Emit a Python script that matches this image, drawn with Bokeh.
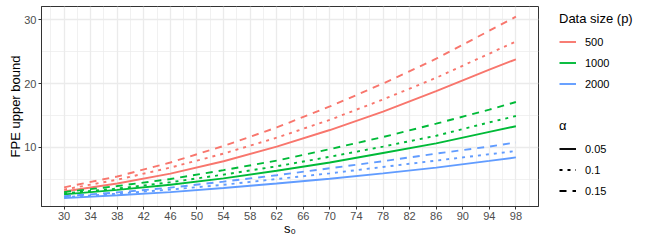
from bokeh.plotting import figure
from bokeh.layouts import row
from bokeh.models import FixedTicker, Legend, LegendItem, Range1d
from bokeh.embed import file_html
from bokeh.resources import INLINE

# ---- data ----
s0 = [30, 38, 46, 54, 62, 70, 78, 86, 94, 98]

data_sizes = ["500", "1000", "2000"]
alphas = ["0.05", "0.1", "0.15"]

p500_a005 = [3.05, 4.3, 5.85, 7.8, 10.1, 12.7, 15.6, 18.8, 22.2, 23.8]
p500_a010 = [3.35, 4.9, 6.8, 9.0, 11.5, 14.3, 17.5, 20.9, 24.7, 26.6]
p500_a015 = [3.7, 5.4, 7.6, 10.2, 13.1, 16.4, 20.0, 23.9, 28.3, 30.5]

p1000_a005 = [2.6, 3.3, 4.1, 5.1, 6.3, 7.6, 9.1, 10.6, 12.4, 13.3]
p1000_a010 = [2.75, 3.5, 4.5, 5.7, 7.0, 8.5, 10.1, 11.8, 13.9, 14.9]
p1000_a015 = [2.95, 3.9, 5.0, 6.4, 7.9, 9.7, 11.6, 13.7, 15.9, 17.1]

p2000_a005 = [2.0, 2.45, 2.95, 3.6, 4.3, 5.05, 5.9, 6.8, 7.85, 8.4]
p2000_a010 = [2.15, 2.7, 3.35, 4.1, 5.0, 5.9, 6.9, 7.9, 8.9, 9.4]
p2000_a015 = [2.3, 2.9, 3.65, 4.6, 5.6, 6.7, 7.8, 9.0, 10.1, 10.75]

x_ticks = list(range(30, 99, 4))
y_ticks = [10, 20, 30]

series = {
    ("500", "0.05"): p500_a005, ("500", "0.1"): p500_a010, ("500", "0.15"): p500_a015,
    ("1000", "0.05"): p1000_a005, ("1000", "0.1"): p1000_a010, ("1000", "0.15"): p1000_a015,
    ("2000", "0.05"): p2000_a005, ("2000", "0.1"): p2000_a010, ("2000", "0.15"): p2000_a015,
}

colors = {"500": "#F8766D", "1000": "#00BA38", "2000": "#619CFF"}
dashes = {"0.05": "solid", "0.1": "3 5", "0.15": "7 6"}
FONT = "Liberation Sans"
LW = 1.9

p = figure(width=540, height=246, output_backend="svg", toolbar_location=None,
           x_range=Range1d(26.6, 101.4), y_range=Range1d(0.69, 32.1),
           min_border_left=41, min_border_right=2, min_border_top=6,
           min_border_bottom=40)
p.background_fill_color = "white"
p.border_fill_color = "white"
p.outline_line_color = "#333333"
p.outline_line_width = 1

for ax, ticks, minor in ((p.xaxis, x_ticks, list(range(28, 101, 4))),
                         (p.yaxis, y_ticks, [5, 15, 25])):
    ax.ticker = FixedTicker(ticks=ticks, minor_ticks=minor)
    ax.axis_line_color = "#333333"
    ax.major_tick_line_color = "#333333"
    ax.major_tick_out = 3
    ax.major_tick_in = 0
    ax.minor_tick_out = 0
    ax.minor_tick_in = 0
    ax.major_label_text_font = FONT
    ax.major_label_text_font_size = "11px"
    ax.major_label_text_color = "#4D4D4D"
    ax.major_label_standoff = 2
    ax.axis_label_text_font = FONT
    ax.axis_label_text_font_size = "13px"
    ax.axis_label_text_font_style = "normal"
    ax.axis_label_text_color = "black"
    ax.axis_label_standoff = -2

p.xaxis.axis_label = "s\u2080"
p.yaxis.axis_label = "FPE upper bound"

for g in (p.xgrid, p.ygrid):
    g.grid_line_color = "#EBEBEB"
    g.grid_line_width = 1.3
    g.minor_grid_line_color = "#EBEBEB"
    g.minor_grid_line_width = 0.7

for (ds, a), vals in series.items():
    p.line(s0, vals, line_color=colors[ds], line_width=LW, line_dash=dashes[a])

# ---- legend panel (separate figure to the right; its lines fall outside its range) ----
lf = figure(width=108, height=246, output_backend="svg", toolbar_location=None,
            x_range=Range1d(0, 1), y_range=Range1d(0, 1),
            x_axis_location=None, y_axis_location=None, min_border=0)
lf.outline_line_color = None
lf.grid.visible = False
lf.background_fill_color = "white"
lf.border_fill_color = "white"

col_items = []
for ds in data_sizes:
    r = lf.line(s0, series[(ds, "0.05")], line_color=colors[ds], line_width=LW)
    col_items.append(LegendItem(label=ds, renderers=[r]))
dash_items = []
for a in alphas:
    r = lf.line(s0, series[("500", a)], line_color="black", line_width=LW,
                line_dash=dashes[a])
    dash_items.append(LegendItem(label=a, renderers=[r]))


def make_legend(items, title, loc):
    lg = Legend(items=items, title=title, location=loc)
    lg.title_text_font = FONT
    lg.title_text_font_size = "13px"
    lg.title_text_font_style = "normal"
    lg.title_text_color = "black"
    lg.title_standoff = 7
    lg.label_text_font = FONT
    lg.label_text_font_size = "11px"
    lg.label_text_color = "black"
    lg.glyph_width = 17
    lg.glyph_height = 17
    lg.label_height = 17
    lg.label_standoff = 9
    lg.spacing = 4
    lg.padding = 0
    lg.margin = 0
    lg.border_line_color = None
    lg.background_fill_alpha = 0
    return lg


lf.add_layout(make_legend(col_items, "Data size (p)", (19, 114)))
lf.add_layout(make_legend(dash_items, "\u03b1", (19, 7)))

layout = row(p, lf, spacing=0)
open("out.html", "w").write(file_html(layout, INLINE))
